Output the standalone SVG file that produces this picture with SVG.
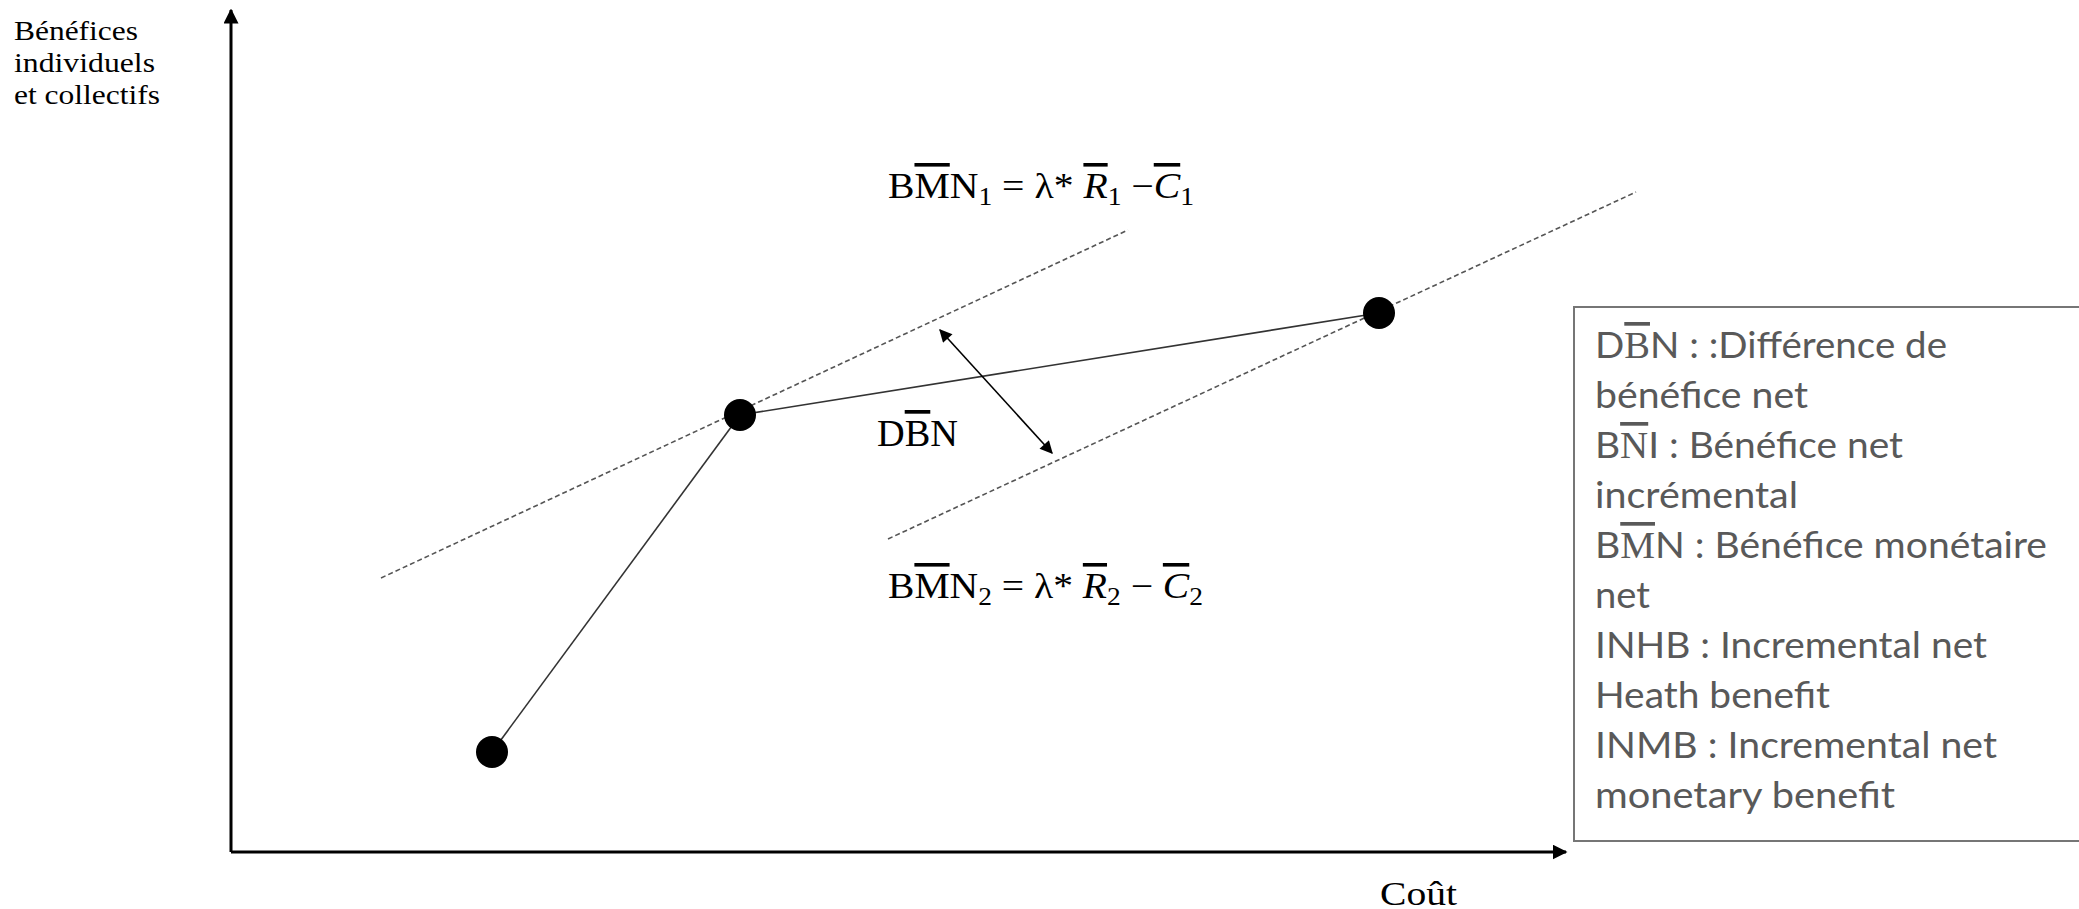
<svg xmlns="http://www.w3.org/2000/svg" width="2079" height="909" viewBox="0 0 2079 909">
<style>
.serif{font-family:"Liberation Serif","Times New Roman",serif;fill:#000}
.f{font-size:36px}
.sub{font-size:25px}
.ol{text-decoration:overline;text-decoration-thickness:1px}
.it{font-style:italic}
.leg{font-family:Lato,"Open Sans",sans-serif;font-size:37px;fill:#595959}
.legs{font-family:"Liberation Serif",serif}
.axis{stroke:#000;stroke-width:3;fill:none}
.dash{stroke:#555;stroke-width:1.6;stroke-dasharray:5 3;fill:none}
.solid{stroke:#333;stroke-width:1.6;fill:none}
.dot{fill:#000}
</style>
<defs>
<marker id="ah" viewBox="0 0 10 10" refX="9" refY="5" markerWidth="5" markerHeight="5" orient="auto-start-reverse" markerUnits="strokeWidth">
<path d="M0,0 L10,5 L0,10 z" fill="#000"/>
</marker>
<marker id="ah2" viewBox="0 0 10 10" refX="9" refY="5" markerWidth="10" markerHeight="8" orient="auto-start-reverse" markerUnits="strokeWidth">
<path d="M0,0 L10,5 L0,10 z" fill="#000"/>
</marker>
</defs>
<rect width="2079" height="909" fill="#fff"/>
<g id="axes">
<line class="axis" x1="231" y1="852" x2="231" y2="10" marker-end="url(#ah)"/>
<line class="axis" x1="231" y1="852" x2="1566" y2="852" marker-end="url(#ah)"/>
</g>
<g id="connectors">
<line class="dash" x1="381" y1="578" x2="1128" y2="230"/>
<line class="dash" x1="888" y1="539" x2="1636" y2="192"/>
<line class="solid" x1="492" y1="752" x2="740" y2="415"/>
<line class="solid" x1="740" y1="415" x2="1379" y2="313"/>
<line stroke="#000" stroke-width="1.6" x1="940" y1="330" x2="1052" y2="453" marker-start="url(#ah2)" marker-end="url(#ah2)"/>
</g>
<g id="node-a"><circle class="dot" cx="492" cy="752" r="16"/></g>
<g id="node-b"><circle class="dot" cx="740" cy="415" r="16"/></g>
<g id="node-c"><circle class="dot" cx="1379" cy="313" r="16"/></g>
<g id="labels">
<text class="serif" font-size="28"><tspan x="14" y="40" textLength="124" lengthAdjust="spacingAndGlyphs">Bénéfices</tspan><tspan x="14" y="72" textLength="141" lengthAdjust="spacingAndGlyphs">individuels</tspan><tspan x="14" y="104" textLength="146" lengthAdjust="spacingAndGlyphs">et collectifs</tspan></text>
<text class="serif" font-size="33" x="1380" y="905" textLength="77" lengthAdjust="spacingAndGlyphs">Coût</text>
<text class="serif" font-size="37" x="877" y="446" textLength="81" lengthAdjust="spacingAndGlyphs">D<tspan class="ol">B</tspan>N</text>
<text class="serif f" x="888" y="198" textLength="306" lengthAdjust="spacingAndGlyphs">B<tspan class="ol">M</tspan>N<tspan class="sub" dy="7">1</tspan><tspan dy="-7"> = λ* </tspan><tspan class="it ol">R</tspan><tspan class="sub" dy="7">1</tspan><tspan dy="-7"> −</tspan><tspan class="it ol">C</tspan><tspan class="sub" dy="7">1</tspan></text>
<text class="serif f" x="888" y="598" textLength="315" lengthAdjust="spacingAndGlyphs">B<tspan class="ol">M</tspan>N<tspan class="sub" dy="7">2</tspan><tspan dy="-7"> = λ* </tspan><tspan class="it ol">R</tspan><tspan class="sub" dy="7">2</tspan><tspan dy="-7"> − </tspan><tspan class="it ol">C</tspan><tspan class="sub" dy="7">2</tspan></text>
</g>
<g id="legend">
<rect x="1574" y="307" width="520" height="534" fill="#fff" stroke="#767676" stroke-width="2"/>
<text class="leg" x="1595" y="358" textLength="352" lengthAdjust="spacingAndGlyphs">D<tspan class="legs ol">B</tspan>N : :Différence de</text>
<text class="leg" x="1595" y="408" textLength="213" lengthAdjust="spacingAndGlyphs">bénéfice net</text>
<text class="leg" x="1595" y="458" textLength="308" lengthAdjust="spacingAndGlyphs">B<tspan class="legs ol">N</tspan>I : Bénéfice net</text>
<text class="leg" x="1595" y="508" textLength="203" lengthAdjust="spacingAndGlyphs">incrémental</text>
<text class="leg" x="1595" y="558" textLength="452" lengthAdjust="spacingAndGlyphs">B<tspan class="legs ol">M</tspan>N : Bénéfice monétaire</text>
<text class="leg" x="1595" y="608" textLength="55" lengthAdjust="spacingAndGlyphs">net</text>
<text class="leg" x="1595" y="658" textLength="392" lengthAdjust="spacingAndGlyphs">INHB : Incremental net</text>
<text class="leg" x="1595" y="708" textLength="235" lengthAdjust="spacingAndGlyphs">Heath benefit</text>
<text class="leg" x="1595" y="758" textLength="402" lengthAdjust="spacingAndGlyphs">INMB : Incremental net</text>
<text class="leg" x="1595" y="808" textLength="300" lengthAdjust="spacingAndGlyphs">monetary benefit</text>
</g>
</svg>
